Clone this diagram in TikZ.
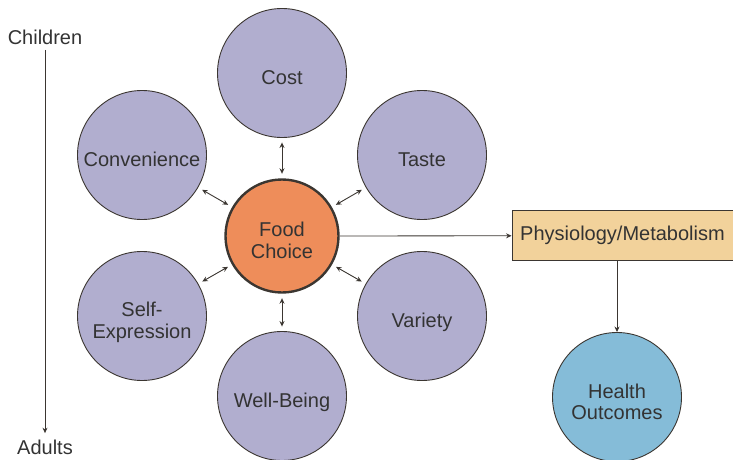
\documentclass[tikz,border=0pt]{standalone}
\usepackage{fontspec}
\setmainfont{Liberation Sans}
\usepackage{xcolor}
\usepackage{tikz}
\usetikzlibrary{arrows.meta}

\definecolor{factor}{HTML}{B1AECF}
\definecolor{choice}{HTML}{EE8D5A}
\definecolor{physio}{HTML}{F2D29B}
\definecolor{health}{HTML}{85BCD8}
\definecolor{ink}{HTML}{3B3631}
\definecolor{txt}{HTML}{333333}

\begin{document}
\begin{tikzpicture}[x=1pt, y=-1pt,
    every node/.style={text=txt, font=\fontsize{20}{21.5}\selectfont, align=center},
    bubble/.style={circle, draw=ink, line width=0.9pt, minimum size=129pt, inner sep=0pt, fill=factor},
    words/.style={yshift=-4.5pt, text depth=0pt},
    link/.style={ink, line width=0.9pt, {Stealth[length=5.5pt,width=5pt]}-{Stealth[length=5.5pt,width=5pt]}, shorten <=4.5pt, shorten >=4.5pt},
    flow/.style={ink, line width=0.8pt, -{Stealth[length=5.5pt,width=5pt]}}]
                \useasboundingbox (0,0) rectangle (733,460);

                % age axis
                \node (children) at (45,37) {Children};
                \node (adults) at (45,447) {Adults};
                \draw[flow] ([yshift=-2pt]children.south) -- ([yshift=3pt]adults.north);

                % centre
                \node[bubble, fill=choice, minimum size=113pt, line width=2.4pt,
                      label={[words]center:Food\\Choice}] (food) at (282,236) {};

                % factors around food choice
                \node[bubble, label={[words]center:Cost}] (cost) at (282,73) {};
                \node[bubble, label={[words]center:Convenience}] (convenience) at (142,155) {};
                \node[bubble, label={[words]center:Taste}] (taste) at (422,155) {};
                \node[bubble, label={[words]center:Self-\\Expression}] (selfexpr) at (142,316) {};
                \node[bubble, label={[words]center:Variety}] (variety) at (422,316) {};
                \node[bubble, label={[words]center:Well-Being}] (wellbeing) at (282,396) {};

                \foreach \f in {cost, convenience, taste, selfexpr, variety, wellbeing} {
                    \draw[link] (food) -- (\f);
                }

                % outcomes
                \node[draw=ink, line width=0.9pt, fill=physio, minimum width=221pt, minimum height=50pt, inner sep=0pt] (physio) at (622.5,235.7) {Physiology/Metabolism};
                \node[bubble, fill=health, label={[words]center:Health\\Outcomes}] (health) at (617,397) {};

                \draw[flow] (food) -- (physio);
                \draw[flow] (physio.south -| health) -- (health);
\end{tikzpicture}
\end{document}
